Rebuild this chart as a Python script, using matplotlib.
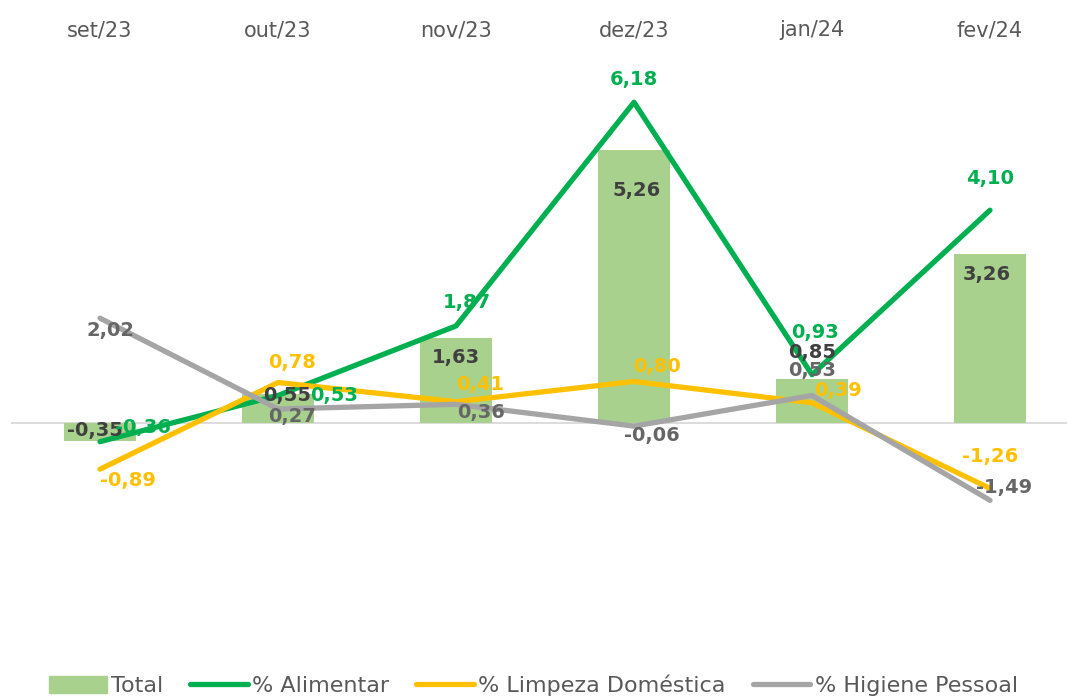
import matplotlib
matplotlib.use("Agg")
import matplotlib.pyplot as plt
from matplotlib.lines import Line2D
from matplotlib.patches import Patch

plt.rcParams['font.family'] = ['DejaVu Sans']

months = ["set/23", "out/23", "nov/23", "dez/23", "jan/24", "fev/24"]
total = [-0.35, 0.55, 1.63, 5.26, 0.85, 3.26]
alimentar = [-0.36, 0.53, 1.87, 6.18, 0.93, 4.10]
limpeza = [-0.89, 0.78, 0.41, 0.80, 0.39, -1.26]
higiene = [2.02, 0.27, 0.36, -0.06, 0.53, -1.49]

# label offsets in pixels (dx, dy), y upward
off_total = [(-5, 11), (9, -1), (0, -19), (3, -40), (0, 26), (-3, -21)]
off_alim = [(43, 14), (56, 0), (11, 23), (0, 23), (3, 42), (0, 32)]
off_limp = [(28, -11), (14, 20), (24, 17), (23, 15), (26, 12), (0, 32)]
off_hig = [(10, -12), (14, -8), (25, -8), (18, -9), (0, 25), (14, 13)]

C_BAR = "#A9D18E"
C_ALIM = "#00B050"
C_LIMP = "#FFC000"
C_HIG = "#A5A5A5"
C_TXT_TOTAL = "#404040"
C_TXT_HIG = "#666666"

W, H = 1067, 699
fig = plt.figure(figsize=(W / 100, H / 100), dpi=100)
ax_left, ax_right = 11, 1079
ax_top, ax_bot = 59.7, 630.6
ax = fig.add_axes([ax_left / W, (H - ax_bot) / H, (ax_right - ax_left) / W, (ax_bot - ax_top) / H])

x = list(range(len(months)))
ax.bar(x, total, width=0.4, color=C_BAR, zorder=1)
ax.axhline(0, color="#D9D9D9", lw=1.3, zorder=0.5)
lw = 3.8
ax.plot(x, alimentar, color=C_ALIM, lw=lw, solid_capstyle='round', zorder=3)
ax.plot(x, limpeza, color=C_LIMP, lw=lw, solid_capstyle='round', zorder=3)
ax.plot(x, higiene, color=C_HIG, lw=lw, solid_capstyle='round', zorder=3)

ax.set_xlim(-0.5, 5.5)
ax.set_ylim(-4, 7)
ax.xaxis.tick_top()
ax.set_xticks(x)
ax.set_xticklabels(months, fontsize=15, color="#595959")
ax.tick_params(axis='x', length=0, pad=14)
ax.set_yticks([])
for s in ax.spines.values():
    s.set_visible(False)

def fmt(v):
    return f"{v:.2f}".replace(".", ",")

def label(vals, offs, color):
    for xi, v, (dx, dy) in zip(x, vals, offs):
        ax.annotate(fmt(v), (xi, v), xytext=(dx * 0.72, dy * 0.72), textcoords='offset points',
                    ha='center', va='center', fontsize=14, fontweight='bold', color=color, zorder=5)

label(total, off_total, C_TXT_TOTAL)
label(alimentar, off_alim, C_ALIM)
label(limpeza, off_limp, C_LIMP)
label(higiene, off_hig, C_TXT_HIG)

handles = [Patch(color=C_BAR, label="Total"),
           Line2D([], [], color=C_ALIM, lw=lw, label="% Alimentar", solid_capstyle='round'),
           Line2D([], [], color=C_LIMP, lw=lw, label="% Limpeza Doméstica", solid_capstyle='round'),
           Line2D([], [], color=C_HIG, lw=lw, label="% Higiene Pessoal", solid_capstyle='round')]
leg = fig.legend(handles=handles, loc='lower center', bbox_to_anchor=(0.5, -0.025), ncol=4,
                 frameon=False, fontsize=16, handlelength=2.6, handleheight=0.8,
                 handletextpad=0.2, columnspacing=1.2, labelcolor="#595959")

fig.savefig("out.png", dpi=100)
